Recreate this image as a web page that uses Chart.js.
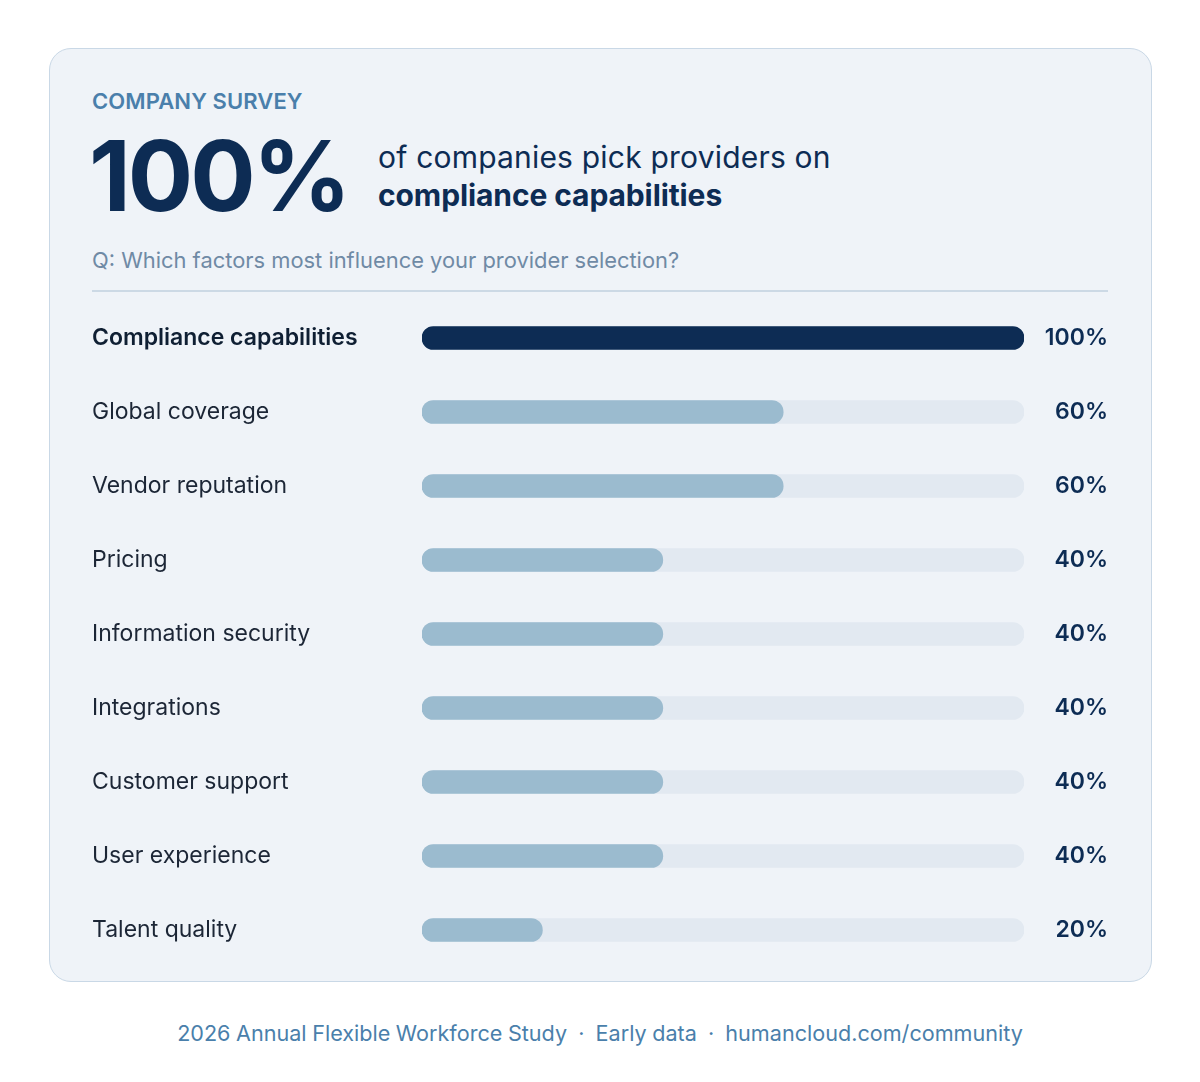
<!DOCTYPE html>
<html>
<head>
<meta charset="utf-8">
<script src="https://cdn.jsdelivr.net/npm/chart.js@4.4.1/dist/chart.umd.min.js"></script>
<style>
  html, body { margin: 0; padding: 0; background: #ffffff; }
  body { width: 1200px; height: 1082px; position: relative; font-family: Inter, "Noto Sans", sans-serif; }
  .card {
    position: absolute; left: 49px; top: 48px; width: 1101px; height: 932px;
    background: #eff3f8; border: 1.5px solid #c9d8e6; border-radius: 22px;
  }
  .kicker { position: absolute; left: 92px; top: 88px; font-size: 22px; font-weight: 600; color: #4a7fab; letter-spacing: 0.1px; }
  .big { position: absolute; left: 89px; top: 118px; font-size: 97px; font-weight: 700; color: #0d2c54; letter-spacing: -3px; line-height: 116px; }
  .lead { position: absolute; left: 378px; top: 138px; font-size: 30px; color: #0d2c54; line-height: 38px; letter-spacing: 0.2px; }
  .lead b { font-weight: 700; letter-spacing: -0.1px; }
  .question { position: absolute; left: 92px; top: 247px; font-size: 21.9px; color: #6f8aa5; }
  .rule { position: absolute; left: 92px; top: 290px; width: 1016px; height: 2px; background: #ccd9e5; }
  .chart-box { position: absolute; left: 92px; top: 301px; width: 1016px; height: 666px; }
  .footer { position: absolute; left: 0; width: 1200px; top: 1020px; text-align: center; font-size: 21.6px; color: #4a7fab; word-spacing: -0.5px; }
</style>
</head>
<body>
<div class="card"></div>
<div class="kicker">COMPANY SURVEY</div>
<div class="big">100%</div>
<div class="lead">of companies pick providers on<br><b>compliance capabilities</b></div>
<div class="question">Q: Which factors most influence your provider selection?</div>
<div class="rule"></div>
<div class="chart-box"><canvas id="chart"></canvas></div>
<div class="footer">2026 Annual Flexible Workforce Study &nbsp;·&nbsp; Early data &nbsp;·&nbsp; humancloud.com/community</div>

<script>
const factors = [
  'Compliance capabilities',
  'Global coverage',
  'Vendor reputation',
  'Pricing',
  'Information security',
  'Integrations',
  'Customer support',
  'User experience',
  'Talent quality'
];
const shares = [100, 60, 60, 40, 40, 40, 40, 40, 20];
const trackMax = [100, 100, 100, 100, 100, 100, 100, 100, 100];
const pctLabels = shares.map(v => v + '%');

const navy = '#0d2c54';
const steel = '#9bbbcf';
const track = '#e2e9f1';

// fixed axis widths, and no extra padding for the first/last tick labels
function fixAxis(width) {
  return (scale) => {
    scale.width = width;
    scale.paddingTop = 0;
    scale.paddingBottom = 0;
  };
}

const ctx = document.getElementById('chart');
new Chart(ctx, {
  type: 'bar',
  data: {
    labels: factors,
    datasets: [
      {
        label: 'Share of companies',
        data: shares,
        backgroundColor: shares.map((v, i) => i === 0 ? navy : steel),
        borderRadius: 12,
        borderSkipped: false,
        barThickness: 23,
        grouped: false,
        order: 1
      },
      {
        label: 'Track',
        data: trackMax,
        backgroundColor: track,
        borderRadius: 12,
        borderSkipped: false,
        barThickness: 23,
        grouped: false,
        order: 2
      }
    ]
  },
  options: {
    indexAxis: 'y',
    responsive: true,
    maintainAspectRatio: false,
    animation: false,
    layout: { padding: 0 },
    plugins: {
      legend: { display: false },
      tooltip: { enabled: false }
    },
    scales: {
      x: {
        display: false,
        min: 0,
        max: 100
      },
      y: {
        position: 'left',
        grid: { display: false },
        border: { display: false },
        afterFit: fixAxis(330),
        ticks: {
          crossAlign: 'far',
          padding: 0,
          color: (c) => c.index === 0 ? '#0f1f33' : '#1c2636',
          font: (c) => ({
            family: 'Inter',
            size: 23,
            weight: c.index === 0 ? '600' : '400'
          })
        }
      },
      y2: {
        type: 'category',
        position: 'right',
        labels: pctLabels,
        offset: true,
        grid: { display: false },
        border: { display: false },
        afterFit: fixAxis(84),
        ticks: {
          crossAlign: 'far',
          padding: 0,
          color: navy,
          font: { family: 'Inter', size: 23, weight: '600' }
        }
      }
    }
  }
});
</script>
</body>
</html>
